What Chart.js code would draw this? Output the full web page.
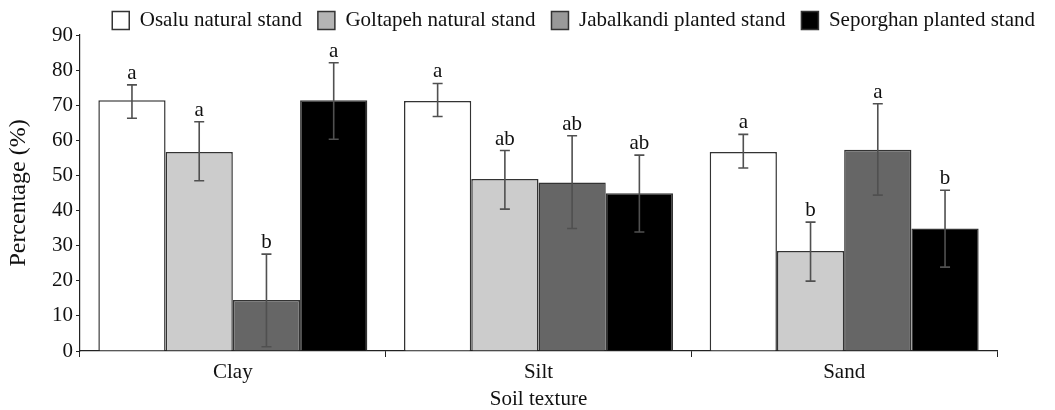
<!DOCTYPE html>
<html>
<head>
<meta charset="utf-8">
<script src="https://cdn.jsdelivr.net/npm/chart.js@4/dist/chart.umd.min.js"></script>
<style>
  html, body { margin: 0; padding: 0; background: #ffffff; }
  #wrap { width: 1055px; height: 410px; position: relative; }
</style>
</head>
<body>
<div id="wrap"><canvas id="c" width="1055" height="410"></canvas></div>
<script>
// ---- data ----
const categories = ['Clay', 'Silt', 'Sand'];
const seriesNames = ['Osalu natural stand', 'Goltapeh natural stand', 'Jabalkandi planted stand', 'Seporghan planted stand'];

const osalu      = [71.4, 71.2, 56.7];
const goltapeh   = [56.7, 49.0, 28.5];
const jabalkandi = [14.5, 48.0, 57.3];
const seporghan  = [71.4, 44.9, 34.9];

const osaluHi      = [75.8, 76.2, 61.7];
const osaluLo      = [66.3, 66.8, 52.1];
const goltapehHi   = [65.3, 57.1, 36.7];
const goltapehLo   = [48.5, 40.4, 19.9];
const jabalkandiHi = [27.6, 61.3, 70.4];
const jabalkandiLo = [1.2, 34.9, 44.4];
const seporghanHi  = [82.1, 55.8, 45.8];
const seporghanLo  = [60.3, 33.9, 23.9];

const osaluSig      = ['a', 'a', 'a'];
const goltapehSig   = ['a', 'ab', 'b'];
const jabalkandiSig = ['b', 'ab', 'a'];
const seporghanSig  = ['a', 'ab', 'b'];

const yTicks = [0, 10, 20, 30, 40, 50, 60, 70, 80, 90];

// ---- styles ----
const barColors = ['#ffffff', '#cccccc', '#666666', '#000000'];
const legendColors = ['#ffffff', '#b4b4b4', '#999999', '#000000'];
const FONT = "'Liberation Serif', 'Times New Roman', serif";

const values = [osalu, goltapeh, jabalkandi, seporghan];
const highs = [osaluHi, goltapehHi, jabalkandiHi, seporghanHi];
const lows = [osaluLo, goltapehLo, jabalkandiLo, seporghanLo];
const sigs = [osaluSig, goltapehSig, jabalkandiSig, seporghanSig];

const errorBarPlugin = {
  id: 'errorBars',
  afterDatasetsDraw(chart) {
    const ctx = chart.ctx;
    const y = chart.scales.y;
    ctx.save();
    chart.data.datasets.forEach((ds, di) => {
      const meta = chart.getDatasetMeta(di);
      meta.data.forEach((bar, i) => {
        const x = bar.x;
        const yHi = y.getPixelForValue(highs[di][i]);
        const yLo = y.getPixelForValue(lows[di][i]);
        ctx.strokeStyle = '#505050';
        ctx.lineWidth = 1.6;
        ctx.beginPath();
        ctx.moveTo(x, yHi); ctx.lineTo(x, yLo);
        ctx.moveTo(x - 5, yHi); ctx.lineTo(x + 5, yHi);
        ctx.moveTo(x - 5, yLo); ctx.lineTo(x + 5, yLo);
        ctx.stroke();
        ctx.fillStyle = '#111111';
        ctx.font = '21px ' + FONT;
        ctx.textAlign = 'center';
        ctx.textBaseline = 'alphabetic';
        ctx.fillText(sigs[di][i], x, yHi - 6);
      });
    });
    ctx.restore();
  }
};

const legendHeightPlugin = {
  id: 'legendHeight',
  beforeInit(chart) {
    const origFit = chart.legend.fit;
    chart.legend.fit = function () {
      origFit.bind(chart.legend)();
      this.height = 41;
    };
  }
};

new Chart(document.getElementById('c'), {
  type: 'bar',
  data: {
    labels: categories,
    datasets: seriesNames.map((name, i) => ({
      label: name,
      data: values[i],
      backgroundColor: barColors[i],
      borderColor: '#333333',
      borderWidth: 1.5,
      categoryPercentage: 0.88,
      barPercentage: 1.0
    }))
  },
  options: {
    responsive: false,
    animation: false,
    devicePixelRatio: 1,
    layout: { padding: { top: -6, left: 0, right: 4, bottom: 0 } },
    plugins: {
      tooltip: { enabled: false },
      legend: {
        position: 'top',
        align: 'end',
        labels: {
          font: { family: FONT, size: 21 },
          color: '#111111',
          boxWidth: 17,
          boxHeight: 18,
          padding: 16,
          generateLabels(chart) {
            return chart.data.datasets.map((ds, i) => ({
              text: ds.label,
              fillStyle: legendColors[i],
              strokeStyle: '#333333',
              lineWidth: 1.5,
              hidden: false,
              datasetIndex: i,
              fontColor: '#111111'
            }));
          }
        }
      }
    },
    scales: {
      x: {
        grid: { display: true, drawOnChartArea: false, drawTicks: true, tickLength: 6, color: '#222222', offset: true },
        border: { display: true, color: '#222222', width: 1.2 },
        ticks: { font: { family: FONT, size: 21 }, color: '#111111', padding: 3 },
        title: { display: true, text: 'Soil texture', font: { family: FONT, size: 21, lineHeight: 1 }, color: '#111111', padding: { top: 0, bottom: 0 } },
        afterFit(s) { s.height = 59; }
      },
      y: {
        min: 0,
        max: 90,
        afterBuildTicks(s) { s.ticks = yTicks.map(v => ({ value: v })); },
        grid: { display: true, drawOnChartArea: false, drawTicks: true, tickLength: 4, color: '#222222' },
        border: { display: true, color: '#222222', width: 1.2 },
        ticks: { font: { family: FONT, size: 21 }, color: '#111111', padding: 3 },
        title: { display: true, text: 'Percentage (%)', font: { family: FONT, size: 24 }, color: '#111111', padding: { top: 4, bottom: 0 } },
        afterFit(s) { s.width = 80; }
      },
      yR: {
        position: 'right',
        display: true,
        grid: { display: false },
        border: { display: false },
        ticks: { display: false },
        afterFit(s) { s.width = 54; }
      }
    }
  },
  plugins: [errorBarPlugin, legendHeightPlugin]
});
</script>
</body>
</html>
